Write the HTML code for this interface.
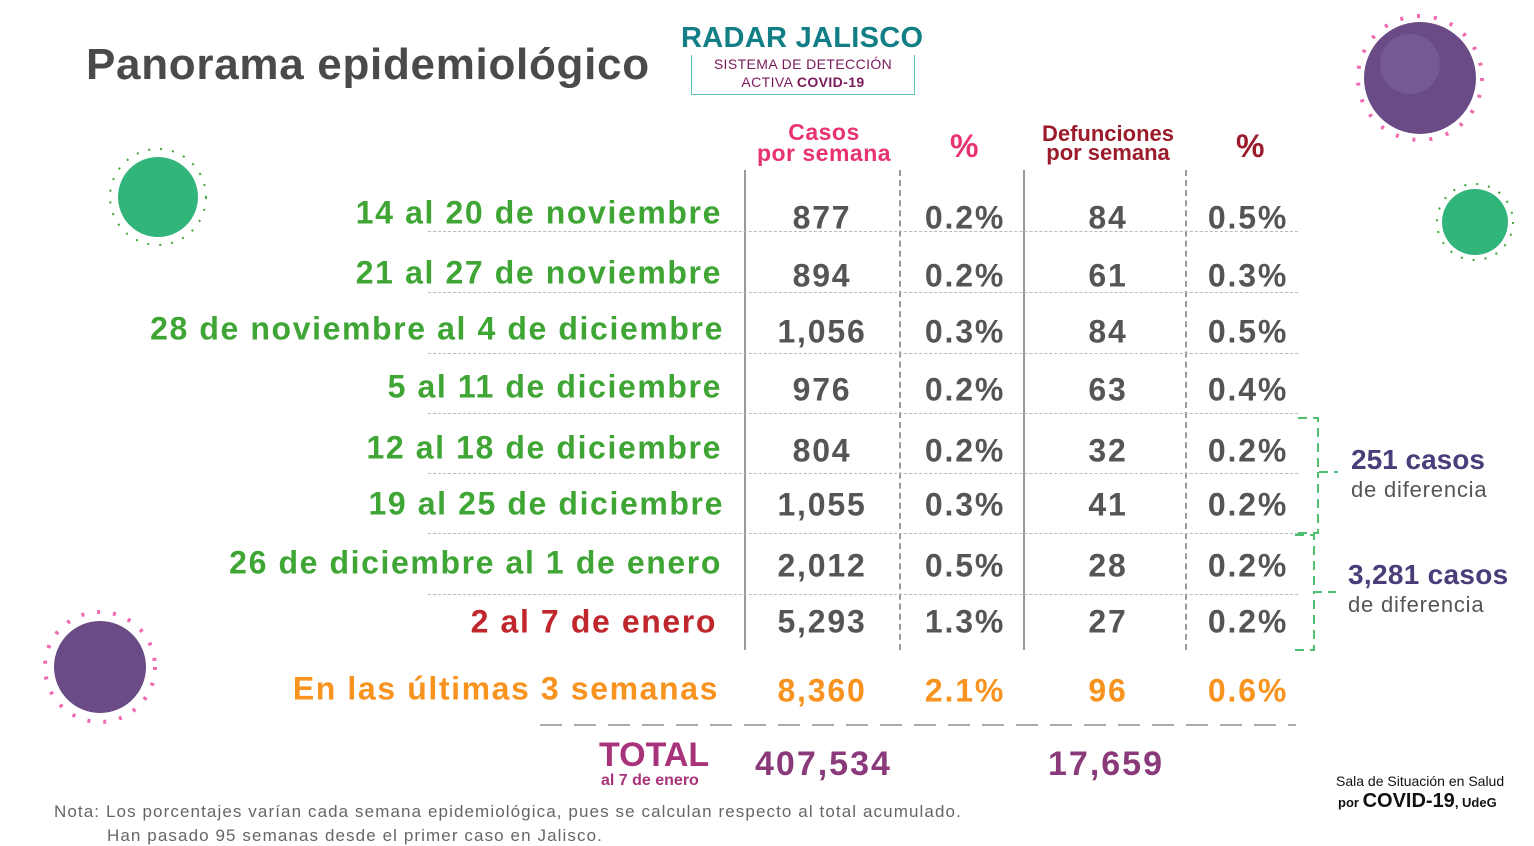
<!DOCTYPE html>
<html><head><meta charset="utf-8"><style>
body{margin:0;width:1534px;height:845px;background:#fff;position:relative;overflow:hidden;font-family:"Liberation Sans",sans-serif;}
.a{position:absolute;white-space:nowrap;}
.lab{position:absolute;right:812px;font-weight:bold;font-size:32px;color:#3fa535;transform:translateY(-50%);letter-spacing:1.6px;}
.n{position:absolute;font-weight:bold;font-size:32px;color:#555;transform:translate(-50%,-50%);letter-spacing:1.8px;}
.h{position:absolute;left:428px;width:870px;border-top:1.5px dashed #bbb;}
</style></head><body>
<div class="a" style="left:86px;top:40px;font-size:44px;font-weight:bold;color:#4a4a4a;letter-spacing:0.7px">Panorama epidemiológico</div>
<div class="a" style="left:681px;top:22px;font-size:29px;font-weight:bold;color:#127f86;letter-spacing:0.3px">RADAR JALISCO</div>
<div class="a" style="left:691px;top:55px;width:222px;height:39px;border:1px solid #5cc6b5;border-top:none;text-align:center;font-size:14px;line-height:18px;color:#7a1a5a;letter-spacing:0.4px">SISTEMA DE DETECCIÓN<br>ACTIVA <b>COVID-19</b></div>
<div class="a" style="left:755px;top:122px;width:138px;text-align:center;font-weight:bold;font-size:23px;line-height:21px;color:#e8336f;letter-spacing:0.5px">Casos<br>por semana</div>
<div class="a" style="left:950px;top:128px;font-weight:bold;font-size:32px;color:#e8336f">%</div>
<div class="a" style="left:1032px;top:124px;width:152px;text-align:center;font-weight:bold;font-size:22px;line-height:19px;color:#9b1b2b">Defunciones<br>por semana</div>
<div class="a" style="left:1236px;top:128px;font-weight:bold;font-size:32px;color:#9b1b2b">%</div>
<div class="a" style="left:744px;top:170px;height:480px;border-left:2px solid #999"></div>
<div class="a" style="left:1023px;top:170px;height:480px;border-left:2px solid #999"></div>
<div class="a" style="left:899px;top:170px;height:480px;border-left:2px dashed #999"></div>
<div class="a" style="left:1185px;top:170px;height:480px;border-left:2px dashed #999"></div>
<div class="h" style="top:231px"></div><div class="h" style="top:292px"></div><div class="h" style="top:353px"></div><div class="h" style="top:413px"></div><div class="h" style="top:473px"></div><div class="h" style="top:533px"></div><div class="h" style="top:594px"></div>
<div class="lab" style="top:213px">14 al 20 de noviembre</div>
<div class="lab" style="top:273px">21 al 27 de noviembre</div>
<div class="lab" style="top:329px;right:810px">28 de noviembre al 4 de diciembre</div>
<div class="lab" style="top:387px">5 al 11 de diciembre</div>
<div class="lab" style="top:448px">12 al 18 de diciembre</div>
<div class="lab" style="top:504px;right:810px">19 al 25 de diciembre</div>
<div class="lab" style="top:563px">26 de diciembre al 1 de enero</div>
<div class="lab" style="top:622px;right:817px;color:#c0272d">2 al 7 de enero</div>
<div class="lab" style="top:689px;right:815px;color:#f7931e">En las últimas 3 semanas</div>
<div class="n" style="left:822px;top:218px">877</div><div class="n" style="left:965px;top:218px">0.2%</div><div class="n" style="left:1108px;top:218px">84</div><div class="n" style="left:1248px;top:218px">0.5%</div>
<div class="n" style="left:822px;top:276px">894</div><div class="n" style="left:965px;top:276px">0.2%</div><div class="n" style="left:1108px;top:276px">61</div><div class="n" style="left:1248px;top:276px">0.3%</div>
<div class="n" style="left:822px;top:332px">1,056</div><div class="n" style="left:965px;top:332px">0.3%</div><div class="n" style="left:1108px;top:332px">84</div><div class="n" style="left:1248px;top:332px">0.5%</div>
<div class="n" style="left:822px;top:390px">976</div><div class="n" style="left:965px;top:390px">0.2%</div><div class="n" style="left:1108px;top:390px">63</div><div class="n" style="left:1248px;top:390px">0.4%</div>
<div class="n" style="left:822px;top:451px">804</div><div class="n" style="left:965px;top:451px">0.2%</div><div class="n" style="left:1108px;top:451px">32</div><div class="n" style="left:1248px;top:451px">0.2%</div>
<div class="n" style="left:822px;top:505px">1,055</div><div class="n" style="left:965px;top:505px">0.3%</div><div class="n" style="left:1108px;top:505px">41</div><div class="n" style="left:1248px;top:505px">0.2%</div>
<div class="n" style="left:822px;top:566px">2,012</div><div class="n" style="left:965px;top:566px">0.5%</div><div class="n" style="left:1108px;top:566px">28</div><div class="n" style="left:1248px;top:566px">0.2%</div>
<div class="n" style="left:822px;top:622px">5,293</div><div class="n" style="left:965px;top:622px">1.3%</div><div class="n" style="left:1108px;top:622px">27</div><div class="n" style="left:1248px;top:622px">0.2%</div>
<div class="n" style="left:822px;top:691px;color:#f7931e">8,360</div><div class="n" style="left:965px;top:691px;color:#f7931e">2.1%</div><div class="n" style="left:1108px;top:691px;color:#f7931e">96</div><div class="n" style="left:1248px;top:691px;color:#f7931e">0.6%</div>
<svg class="a" style="left:0;top:0" width="1534" height="845">
<line x1="540" y1="725" x2="1296" y2="725" stroke="#aaa" stroke-width="2" stroke-dasharray="22,12"/>
<path d="M1298 418 H1318 V472 H1338 M1298 533 H1318 V472" fill="none" stroke="#4fbf6f" stroke-width="2" stroke-dasharray="9,6"/>
<path d="M1295 535 H1314 V592 H1336 M1295 650 H1314 V592" fill="none" stroke="#4fbf6f" stroke-width="2" stroke-dasharray="9,6"/>
<circle cx="1420" cy="78" r="62" fill="none" stroke="#f06ab0" stroke-width="4" stroke-dasharray="3,14"/>
<circle cx="1420" cy="78" r="56" fill="#6a4b85"/><circle cx="1410" cy="64" r="30" fill="#7d63a0" opacity=".6"/>
<circle cx="1475" cy="222" r="38" fill="none" stroke="#3fa535" stroke-width="2" stroke-dasharray="2,10"/><circle cx="1475" cy="222" r="33" fill="#31b57a"/>
<circle cx="158" cy="197" r="48" fill="none" stroke="#3fa535" stroke-width="2" stroke-dasharray="2,10"/><circle cx="158" cy="197" r="40" fill="#31b57a"/>
<circle cx="100" cy="667" r="55" fill="none" stroke="#f06ab0" stroke-width="4" stroke-dasharray="3,13"/><circle cx="100" cy="667" r="46" fill="#6a4b85"/>
</svg>
<div class="a" style="left:1351px;top:444px;font-weight:bold;font-size:28px;color:#4a3d7a">251 casos</div>
<div class="a" style="left:1351px;top:477px;font-size:22px;color:#555;letter-spacing:0.8px">de diferencia</div>
<div class="a" style="left:1348px;top:559px;font-weight:bold;font-size:28px;color:#4a3d7a;letter-spacing:0.3px">3,281 casos</div>
<div class="a" style="left:1348px;top:592px;font-size:22px;color:#555;letter-spacing:0.8px">de diferencia</div>
<div class="a" style="left:599px;top:736px;font-weight:bold;font-size:34px;color:#a8337a">TOTAL</div>
<div class="a" style="left:601px;top:772px;font-weight:bold;font-size:16px;color:#a8337a">al 7 de enero</div>
<div class="a" style="left:755px;top:745px;font-weight:bold;font-size:34px;color:#8a3a7a;letter-spacing:2px">407,534</div>
<div class="a" style="left:1048px;top:745px;font-weight:bold;font-size:34px;color:#8a3a7a;letter-spacing:2px">17,659</div>
<div class="a" style="left:54px;top:802px;font-size:17px;color:#666;letter-spacing:1.1px">Nota: Los porcentajes varían cada semana epidemiológica, pues se calculan respecto al total acumulado.</div>
<div class="a" style="left:107px;top:826px;font-size:17px;color:#666;letter-spacing:1.1px">Han pasado 95 semanas desde el primer caso en Jalisco.</div>
<div class="a" style="left:1336px;top:773px;font-size:14px;color:#111">Sala de Situación en Salud</div>
<div class="a" style="left:1338px;top:790px;font-size:13px;font-weight:bold;color:#111">por <span style="font-size:20px">COVID-19</span>, UdeG</div>
</body></html>
